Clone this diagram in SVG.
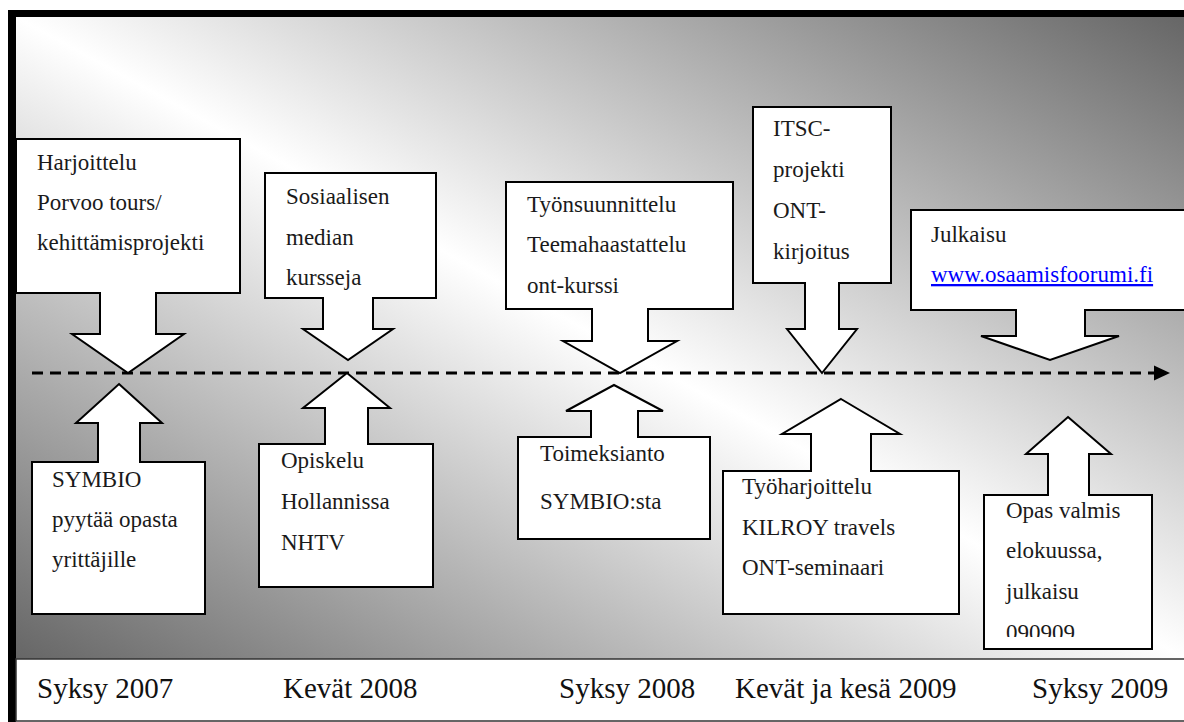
<svg xmlns="http://www.w3.org/2000/svg" width="1184" height="722" viewBox="0 0 1184 722">
<defs>
<linearGradient id="bg" x1="0" y1="1" x2="1" y2="0">
<stop offset="0" stop-color="#666"/>
<stop offset="0.5" stop-color="#fff"/>
<stop offset="1" stop-color="#666"/>
</linearGradient>
<clipPath id="opasClip"><rect x="984" y="495" width="168" height="142"/></clipPath>
</defs>
<style>
.co{fill:#fff;stroke:#000;stroke-width:2;stroke-linejoin:miter}
.t{font-family:"Liberation Serif","Times New Roman",serif;font-size:23px;fill:#1a1a1a}
.b{font-family:"Liberation Serif","Times New Roman",serif;font-size:29px;fill:#111}
.lnk{fill:#0000ff;text-decoration:underline}
</style>
<rect x="0" y="0" width="1184" height="722" fill="#fff"/>
<rect x="16" y="17" width="1170" height="642" fill="url(#bg)"/>
<rect x="8" y="10" width="1176" height="7" fill="#000"/>
<rect x="8" y="10" width="8" height="712" fill="#000"/>
<rect id="timeband" x="16" y="659" width="1172" height="62" fill="#fff" stroke="#333" stroke-width="1.5"/>

<g id="connectors">
<line x1="32" y1="373" x2="1156" y2="373" stroke="#000" stroke-width="3" stroke-dasharray="11 7"/>
<polygon points="1154,365.5 1170,373 1154,380.5" fill="#000"/>
</g>

<g id="n-harjoittelu">
<path class="co" d="M16,139 H240 V293 H156 V334 H184 L128,373 L72,334 H100 V293 H16 Z"/>
<text class="t" x="37" y="170">Harjoittelu</text>
<text class="t" x="37" y="210">Porvoo tours/</text>
<text class="t" x="37" y="250">kehittämisprojekti</text>
</g>
<g id="n-sosiaalisen">
<path class="co" d="M265,173 H436 V298 H373 V329 H393 L348,360 L303,329 H323 V298 H265 Z"/>
<text class="t" x="286" y="204">Sosiaalisen</text>
<text class="t" x="286" y="245">median</text>
<text class="t" x="286" y="285">kursseja</text>
</g>
<g id="n-tyonsuunnittelu">
<path class="co" d="M506,182 H733 V309 H648 V341 H677 L620,373 L563,341 H592 V309 H506 Z"/>
<text class="t" x="527" y="212">Työnsuunnittelu</text>
<text class="t" x="527" y="252">Teemahaastattelu</text>
<text class="t" x="527" y="293">ont-kurssi</text>
</g>
<g id="n-itsc">
<path class="co" d="M753,107 H891 V283 H839 V329 H857 L822,373 L787,329 H805 V283 H753 Z"/>
<text class="t" x="773" y="136">ITSC-</text>
<text class="t" x="773" y="177">projekti</text>
<text class="t" x="773" y="218">ONT-</text>
<text class="t" x="773" y="259">kirjoitus</text>
</g>
<g id="n-julkaisu">
<path class="co" d="M911,210 H1190 V310 H1085 V336 H1119 L1050,360 L981,336 H1016 V310 H911 Z"/>
<text class="t" x="931" y="242">Julkaisu</text>
<text class="t lnk" x="931" y="282">www.osaamisfoorumi.fi</text>
</g>

<g id="n-symbio">
<path class="co" d="M119,384 L162,423 H140 V462 H205 V614 H32 V462 H98 V423 H76 Z"/>
<text class="t" x="52" y="487">SYMBIO</text>
<text class="t" x="52" y="527">pyytää opasta</text>
<text class="t" x="52" y="567">yrittäjille</text>
</g>
<g id="n-opiskelu">
<path class="co" d="M347,373 L390,408 H368 V444 H433 V587 H259 V444 H325 V408 H303 Z"/>
<text class="t" x="281" y="468">Opiskelu</text>
<text class="t" x="281" y="509">Hollannissa</text>
<text class="t" x="281" y="550">NHTV</text>
</g>
<g id="n-toimeksianto">
<path class="co" d="M614,385 L663,411 H638 V437 H710 V539 H518 V437 H591 V411 H566 Z"/>
<text class="t" x="540" y="461">Toimeksianto</text>
<text class="t" x="540" y="509">SYMBIO:sta</text>
</g>
<g id="n-tyoharjoittelu">
<path class="co" d="M841,399 L900,434 H871 V471 H959 V614 H723 V471 H811 V434 H782 Z"/>
<text class="t" x="742" y="494">Työharjoittelu</text>
<text class="t" x="742" y="535">KILROY travels</text>
<text class="t" x="742" y="575">ONT-seminaari</text>
</g>
<g id="n-opas">
<path class="co" d="M1068,417 L1111,454 H1089 V495 H1152 V649 H984 V495 H1048 V454 H1026 Z"/>
<g clip-path="url(#opasClip)">
<text class="t" x="1006" y="518">Opas valmis</text>
<text class="t" x="1006" y="558">elokuussa,</text>
<text class="t" x="1006" y="599">julkaisu</text>
<text class="t" x="1006" y="640">090909</text>
</g>
</g>

<g id="timeline-labels">
<text class="b" x="37" y="698">Syksy 2007</text>
<text class="b" x="283" y="698">Kevät 2008</text>
<text class="b" x="559" y="698">Syksy 2008</text>
<text class="b" x="735" y="698">Kevät ja kesä 2009</text>
<text class="b" x="1032" y="698">Syksy 2009</text>
</g>
</svg>
